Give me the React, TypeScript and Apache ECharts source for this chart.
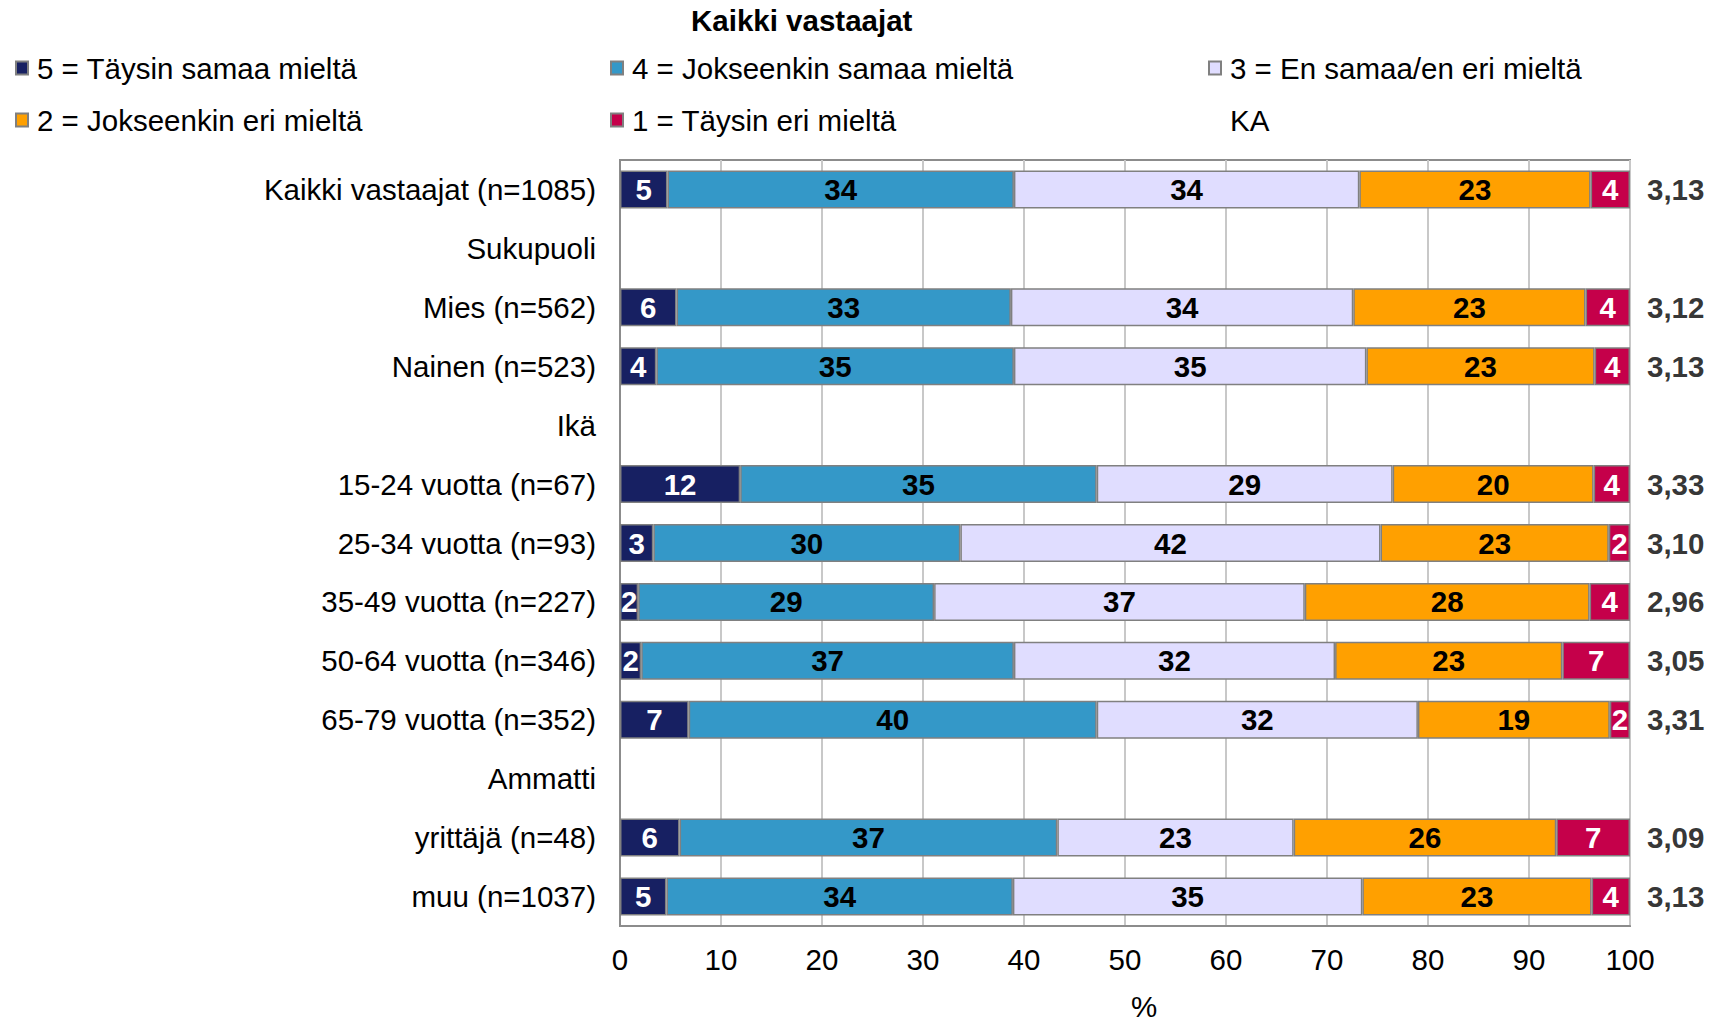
import React, { useEffect, useRef } from "react";
import * as echarts from "echarts";

const categories = [
  "Kaikki vastaajat (n=1085)",
  "Sukupuoli",
  "Mies (n=562)",
  "Nainen (n=523)",
  "Ikä",
  "15-24 vuotta (n=67)",
  "25-34 vuotta (n=93)",
  "35-49 vuotta (n=227)",
  "50-64 vuotta (n=346)",
  "65-79 vuotta (n=352)",
  "Ammatti",
  "yrittäjä (n=48)",
  "muu (n=1037)",
];

const seriesNames = [
  "5 = Täysin samaa mieltä",
  "4 = Jokseenkin samaa mieltä",
  "3 = En samaa/en eri mieltä",
  "2 = Jokseenkin eri mieltä",
  "1 = Täysin eri mieltä",
];

const v5 = [4.7, null, 5.6, 3.6, null, 11.9, 3.3, 1.8, 2.1, 6.8, null, 5.9, 4.6];
const v4 = [34.3, null, 33.1, 35.4, null, 35.3, 30.4, 29.3, 36.9, 40.4, null, 37.4, 34.3];
const v3 = [34.2, null, 33.9, 34.9, null, 29.3, 41.6, 36.7, 31.8, 31.8, null, 23.4, 34.6];
const v2 = [22.9, null, 23.0, 22.6, null, 19.9, 22.6, 28.2, 22.5, 19.0, null, 26.0, 22.7];
const v1 = [3.9, null, 4.4, 3.5, null, 3.6, 2.1, 4.0, 6.7, 2.0, null, 7.3, 3.8];
const ka = [3.13, null, 3.12, 3.13, null, 3.33, 3.1, 2.96, 3.05, 3.31, null, 3.09, 3.13];

const xTicks = [0, 10, 20, 30, 40, 50, 60, 70, 80, 90, 100];

const colors = ["#172062", "#3498C8", "#E0DDFF", "#FFA000", "#C5004A"];
const labelColors = ["#ffffff", "#000000", "#000000", "#000000", "#ffffff"];
const FONT = "'Liberation Sans', Arial, sans-serif";
const FS = 29.5;

export default function App() {
  const ref = useRef<HTMLDivElement>(null);
  useEffect(() => {
    if (!ref.current) return;
    const chart = echarts.init(ref.current, null, { renderer: "svg" });
    const values = [v5, v4, v3, v2, v1];
    const barSeries = values.map((vals, i) => ({
      name: seriesNames[i],
      type: "bar",
      stack: "total",
      barWidth: 38,
      data: vals,
      itemStyle: { color: colors[i], borderColor: "#808080", borderWidth: 1.5 },
      label: {
        show: true,
        position: "inside",
        fontFamily: FONT,
        fontSize: FS,
        fontWeight: "bold",
        color: labelColors[i],
        formatter: (p: any) => (p.value == null ? "" : String(Math.round(p.value))),
      },
    }));
    const kaData = ka
      .map((k, i) => (k == null ? null : [100, i, k]))
      .filter((d) => d !== null);
    const legendText = { fontFamily: FONT, fontSize: FS, color: "#000", lineHeight: 30, padding: [0, 0, 0, 4] };
    const mkLegend = (left: number, names: any[]) => ({
      orient: "vertical",
      left,
      top: 53,
      padding: 0,
      itemGap: 22,
      itemWidth: 12,
      itemHeight: 13,
      icon: "rect",
      selectedMode: false,
      textStyle: legendText,
      data: names,
    });
    chart.setOption({
      animation: false,
      textStyle: { fontFamily: FONT },
      title: {
        text: "Kaikki vastaajat",
        left: 691,
        top: 5,
        padding: 0,
        textStyle: { fontFamily: FONT, fontSize: FS, fontWeight: "bold", color: "#000" },
      },
      legend: [
        mkLegend(15, [seriesNames[0], seriesNames[3]]),
        mkLegend(610, [seriesNames[1], seriesNames[4]]),
        mkLegend(1208, [
          seriesNames[2],
          { name: "KA", icon: "rect", itemStyle: { color: "transparent", borderWidth: 0, borderColor: "transparent" } },
        ]),
      ],
      grid: {
        left: 620,
        right: 95,
        top: 160,
        bottom: 95,
        outerBoundsMode: "none",
        containLabel: false,
        show: true,
        borderColor: "#8C8C8C",
        borderWidth: 2,
        backgroundColor: "transparent",
      },
      xAxis: {
        type: "value",
        min: xTicks[0],
        max: xTicks[xTicks.length - 1],
        interval: 10,
        name: "%",
        nameLocation: "middle",
        nameGap: 65,
        nameTextStyle: { fontFamily: FONT, fontSize: FS, color: "#000", padding: [0, 0, 0, 38] },
        axisLine: { show: true, lineStyle: { color: "#8C8C8C", width: 2 } },
        axisTick: { show: false },
        axisLabel: { fontFamily: FONT, fontSize: FS, color: "#000", margin: 18 },
        splitLine: { show: true, lineStyle: { color: "#C8C8C8", width: 2 } },
      },
      yAxis: {
        type: "category",
        inverse: true,
        data: categories,
        axisLine: { show: true, lineStyle: { color: "#8C8C8C", width: 2 } },
        axisTick: { show: false },
        axisLabel: { fontFamily: FONT, fontSize: FS, color: "#000", margin: 24 },
        splitLine: { show: false },
      },
      series: [
        ...barSeries,
        {
          name: "KA",
          type: "scatter",
          symbolSize: 0,
          itemStyle: { color: "transparent" },
          encode: { x: 0, y: 1 },
          data: kaData,
          label: {
            show: true,
            position: "right",
            distance: 17,
            fontFamily: FONT,
            fontSize: FS,
            fontWeight: "bold",
            color: "#000",
            formatter: (p: any) => p.value[2].toFixed(2).replace(".", ","),
          },
        },
      ],
    });
    return () => chart.dispose();
  }, []);
  return (
    <div
      ref={ref}
      style={{ position: "absolute", left: 0, top: 0, width: 1725, height: 1021, background: "#fff" }}
    />
  );
}
